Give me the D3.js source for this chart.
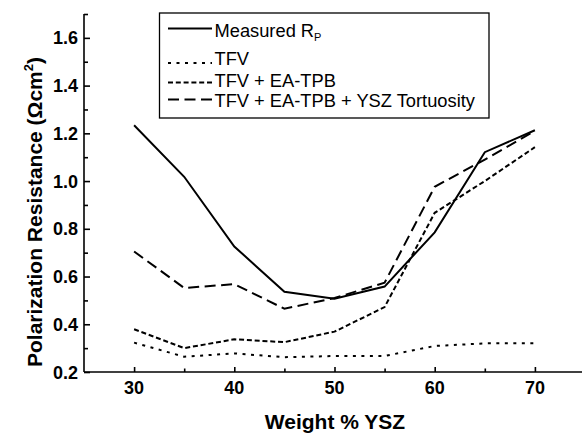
<!DOCTYPE html>
<html>
<head>
<meta charset="utf-8">
<script src="https://cdn.jsdelivr.net/npm/d3@7"></script>
<style>
  html, body { margin: 0; padding: 0; background: #fff; }
  svg { display: block; font-family: "Liberation Sans", Arial, Helvetica, sans-serif; }
</style>
</head>
<body>
<svg id="chart" width="582" height="433"></svg>
<script>
// Weight % YSZ in the composite cathode
const weightYSZ = [30, 35, 40, 45, 50, 55, 60, 65, 70];

// Polarization resistance (Ω·cm²) for each series
const measuredRp   = [1.234, 1.018, 0.726, 0.536, 0.507, 0.558, 0.785, 1.121, 1.213];
const tfv          = [0.323, 0.264, 0.278, 0.262, 0.267, 0.267, 0.309, 0.320, 0.320];
const tfvEaTpb     = [0.379, 0.300, 0.337, 0.325, 0.369, 0.472, 0.867, 1.000, 1.142];
const tfvEaTpbTort = [0.705, 0.552, 0.568, 0.465, 0.510, 0.574, 0.976, 1.090, 1.210];

const xTicks = [30, 40, 50, 60, 70];
const yTicks = [0.2, 0.4, 0.6, 0.8, 1.0, 1.2, 1.4, 1.6];

const series = [
  { name: "Measured", sub: "P", values: measuredRp,   dash: null },
  { name: "TFV",                values: tfv,          dash: "3,5.5" },
  { name: "TFV + EA-TPB",       values: tfvEaTpb,     dash: "5,2.8" },
  { name: "TFV + EA-TPB + YSZ Tortuosity", values: tfvEaTpbTort, dash: "11,5.5" }
];

const svg = d3.select("#chart");
const x = d3.scaleLinear().domain([25, 75]).range([84, 585]);
const y = d3.scaleLinear().domain([0.2, 1.7]).range([372, 14]);

// Axes: ticks point into the plot
const xAxis = d3.axisBottom(x).tickValues(d3.range(30, 71, 5)).tickSize(-5).tickFormat("");
const gx = svg.append("g").attr("transform", `translate(0,${y(0.2)})`).call(xAxis);
gx.select(".domain").attr("d", `M${x(25)},0H${x(75)}`);
gx.selectAll(".tick line").attr("y2", d => (d % 10 === 0 ? -5 : -3.5));

const yAxis = d3.axisLeft(y).tickValues(d3.range(0.2, 1.71, 0.1).map(v => +v.toFixed(2))).tickSize(-6).tickFormat("");
const gy = svg.append("g").attr("transform", `translate(${x(25)},0)`).call(yAxis);
gy.select(".domain").attr("d", `M0,${y(1.7)}V${y(0.2)}`);
gy.selectAll(".tick line").attr("x2", d => (Math.round(d * 10) % 2 === 0 ? 6 : 4));

svg.selectAll(".domain, .tick line").attr("stroke", "#000").attr("stroke-width", 1.6);

// Tick labels
svg.append("g").selectAll("text").data(xTicks).join("text")
  .attr("x", d => x(d)).attr("y", 394)
  .attr("text-anchor", "middle")
  .attr("font-size", 18).attr("font-weight", "bold")
  .text(d => d);

svg.append("g").selectAll("text").data(yTicks).join("text")
  .attr("x", 78).attr("y", d => y(d) + 6.5)
  .attr("text-anchor", "end")
  .attr("font-size", 18).attr("font-weight", "bold")
  .text(d => d.toFixed(1));

// Axis titles
svg.append("text")
  .attr("x", 335).attr("y", 429)
  .attr("text-anchor", "middle")
  .attr("font-size", 21).attr("font-weight", "bold")
  .text("Weight % YSZ");

const yTitle = svg.append("text")
  .attr("transform", `translate(42,212) rotate(-90)`)
  .attr("text-anchor", "middle")
  .attr("font-size", 21).attr("font-weight", "bold");
yTitle.append("tspan").text("Polarization Resistance (\u03A9cm");
yTitle.append("tspan").attr("font-size", 13).attr("dy", -9).text("2");
yTitle.append("tspan").attr("dy", 9).text(")");

// Series lines
const line = d3.line().x((d, i) => x(weightYSZ[i])).y(d => y(d));
svg.append("g").selectAll("path").data(series).join("path")
  .attr("d", d => line(d.values))
  .attr("fill", "none")
  .attr("stroke", "#000")
  .attr("stroke-width", 2)
  .attr("stroke-dasharray", d => d.dash);

// Legend
const legend = svg.append("g");
legend.append("rect")
  .attr("x", 159.5).attr("y", 13).attr("width", 329.5).attr("height", 105)
  .attr("fill", "#fff").attr("stroke", "#000").attr("stroke-width", 1.3);
const lineY = [28.5, 63, 82.5, 99.5];
const textY = [36.5, 65, 86.5, 106.5];
const rows = legend.selectAll("g.row").data(series).join("g").attr("class", "row");
rows.append("line")
  .attr("x1", 168).attr("x2", 212)
  .attr("y1", (d, i) => lineY[i]).attr("y2", (d, i) => lineY[i])
  .attr("stroke", "#000").attr("stroke-width", 2)
  .attr("stroke-dasharray", d => d.dash);
const labels = rows.append("text")
  .attr("x", 214.5).attr("y", (d, i) => textY[i])
  .attr("font-size", 18.3);
labels.append("tspan").text(d => d.sub ? d.name + " R" : d.name);
labels.filter(d => d.sub).append("tspan")
  .attr("font-size", 11).attr("dy", 4).text(d => d.sub);
</script>
</body>
</html>
